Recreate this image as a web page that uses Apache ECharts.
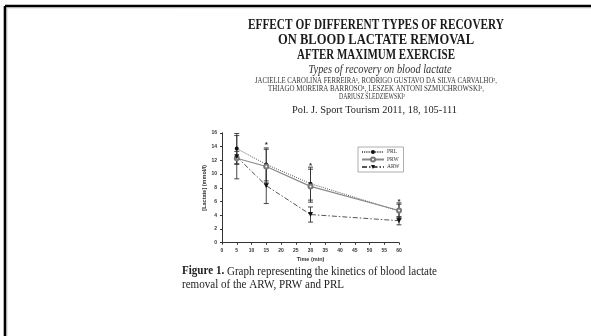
<!DOCTYPE html>
<html>
<head>
<meta charset="utf-8">
<script src="https://cdn.jsdelivr.net/npm/echarts@6/dist/echarts.min.js"></script>
<style>
  html, body { margin: 0; padding: 0; background: #fff; }
  #chart { width: 591px; height: 336px; }
</style>
</head>
<body>
<div id="chart"></div>
<script>
// time points (min)
var times = [5, 15, 30, 60]
var seriesNames = ['PRL', 'PRW', 'ARW']

// mean lactate (mmol/l)
var prl = [13.7, 11.4, 8.6, 4.6]
var prw = [12.3, 11.1, 8.2, 4.7]
var arw = [12.5, 8.3, 4.1, 3.2]

// error bars: lower / upper
var prlLow = [11.5, 9.0, 6.2, 3.5]
var prlHigh = [15.9, 13.8, 11.0, 5.8]
var prwLow = [11.4, 8.7, 5.9, 3.7]
var prwHigh = [13.3, 13.6, 10.7, 5.6]
var arwLow = [9.3, 5.7, 3.0, 2.6]
var arwHigh = [15.6, 10.9, 5.2, 3.8]

// significance marks
var starTimes = [15, 30, 60]
var starValues = [14.4, 11.4, 6.2]

var yTicks = [0, 2, 4, 6, 8, 10, 12, 14, 16]
var xTicks = [0, 5, 10, 15, 20, 25, 30, 35, 40, 45, 50, 55, 60]

var titleLines = [
  'EFFECT OF DIFFERENT TYPES OF RECOVERY',
  'ON BLOOD LACTATE REMOVAL',
  'AFTER MAXIMUM EXERCISE'
]
var subtitle = 'Types of recovery on blood lactate'
var authorLines = [
  'JACIELLE CAROLINA FERREIRA¹, RODRIGO GUSTAVO DA SILVA CARVALHO²,',
  'THIAGO MOREIRA BARROSO¹, LESZEK ANTONI SZMUCHROWSKI³,',
  'DARIUSZ ŚLEDZIEWSKI²'
]
var journal = 'Pol. J. Sport Tourism 2011, 18, 105-111'
var captionBold = 'Figure 1.'
var captionLine1 = ' Graph representing the kinetics of blood lactate'
var captionLine2 = 'removal of the ARW, PRW and PRL'

function pairs(xs, ys) {
  return xs.map(function (x, i) { return [x, ys[i]] })
}

var errData = []
;[[prlLow, prlHigh], [prwLow, prwHigh], [arwLow, arwHigh]].forEach(function (s) {
  times.forEach(function (t, i) { errData.push([t, s[0][i], s[1][i]]) })
})

// text measuring, used to squeeze the text to the page width
var measureCtx = document.createElement('canvas').getContext('2d')
function textWidth(str, font) {
  measureCtx.font = font
  return measureCtx.measureText(str).width
}
function centerText(str, font, cx, cy, w, color) {
  return {
    type: 'text', x: cx, y: cy, scaleX: w / textWidth(str, font), silent: true,
    style: { text: str, font: font, fill: color || '#222', textAlign: 'center', textVerticalAlign: 'middle' }
  }
}

var serif = '"Liberation Serif", "DejaVu Serif", serif'
var graphics = []
// slide frame
graphics.push({ type: 'line', shape: { x1: 5, y1: 6, x2: 591, y2: 6 }, style: { stroke: '#000', lineWidth: 2.6 } })
graphics.push({ type: 'line', shape: { x1: 5, y1: 6, x2: 5, y2: 336 }, style: { stroke: '#000', lineWidth: 2.6 } })
graphics.push({ type: 'line', shape: { x1: 7, y1: 7.8, x2: 591, y2: 7.8 }, style: { stroke: '#aaa', lineWidth: 0.8 } })
graphics.push({ type: 'line', shape: { x1: 6.8, y1: 8, x2: 6.8, y2: 336 }, style: { stroke: '#aaa', lineWidth: 0.8 } })

var titleFont = 'bold 14px ' + serif
graphics.push(centerText(titleLines[0], titleFont, 376, 25, 256, '#1a1a1a'))
graphics.push(centerText(titleLines[1], titleFont, 376, 40, 196, '#1a1a1a'))
graphics.push(centerText(titleLines[2], titleFont, 376, 55, 158, '#1a1a1a'))
graphics.push(centerText(subtitle, 'italic 11.5px ' + serif, 380, 70, 143, '#333'))
graphics.push(centerText(authorLines[0], '7.5px ' + serif, 376, 81, 242, '#333'))
graphics.push(centerText(authorLines[1], '7.5px ' + serif, 376, 89, 216, '#333'))
graphics.push(centerText(authorLines[2], '7.5px ' + serif, 372, 97, 66, '#333'))
graphics.push(centerText(journal, '11px ' + serif, 374.5, 110, 165, '#222'))

// caption, left aligned and squeezed to its width
var capFont = '11.5px ' + serif
var capBoldFont = 'bold 11.5px ' + serif
var cw1 = textWidth(captionBold, capBoldFont) + textWidth(captionLine1, capFont)
var capScale = 255 / cw1
graphics.push({
  type: 'text', x: 182, y: 271.5, scaleX: capScale, silent: true,
  style: {
    text: '{b|' + captionBold + '}' + captionLine1, font: capFont, fill: '#222', textVerticalAlign: 'middle',
    rich: { b: { fontWeight: 'bold', fontSize: 11.5, fontFamily: serif, fill: '#222' } }
  }
})
graphics.push({
  type: 'text', x: 182, y: 285, scaleX: capScale, silent: true,
  style: { text: captionLine2, font: capFont, fill: '#222', textVerticalAlign: 'middle' }
})

var axisFont = '"Liberation Sans", Arial, sans-serif'
var chart = echarts.init(document.getElementById('chart'))
chart.setOption({
  backgroundColor: '#fff',
  animation: false,
  graphic: graphics,
  grid: { left: 222, right: 192, top: 132.8, bottom: 93.3 },
  legend: {
    data: seriesNames,
    orient: 'vertical',
    left: 358,
    top: 147,
    itemWidth: 22,
    itemHeight: 5,
    itemGap: 1.5,
    padding: [2, 4, 2, 3],
    borderColor: '#999',
    borderWidth: 0.8,
    textStyle: { fontFamily: serif, fontSize: 5.5, color: '#333', padding: [0, 0, 0, -2] }
  },
  xAxis: {
    type: 'value', min: 0, max: 60, interval: 5,
    name: 'Time (min)', nameLocation: 'middle', nameGap: 14,
    nameTextStyle: { fontFamily: axisFont, fontSize: 5.5, fontWeight: 'bold', color: '#333' },
    axisLine: { lineStyle: { color: '#333', width: 1 } },
    axisTick: { length: 2, lineStyle: { color: '#333' } },
    axisLabel: {
      margin: 5, fontFamily: axisFont, fontSize: 5, fontWeight: 'bold', color: '#333',
      customValues: xTicks
    },
    splitLine: { show: false }
  },
  yAxis: {
    type: 'value', min: 0, max: 16, interval: 2,
    name: '[Lactate] (mmol/l)', nameLocation: 'middle', nameGap: 13, nameRotate: 90,
    nameTextStyle: { fontFamily: axisFont, fontSize: 5.5, fontWeight: 'bold', color: '#333' },
    axisLine: { show: true, lineStyle: { color: '#333', width: 1 } },
    axisTick: { show: true, length: 2, lineStyle: { color: '#333' } },
    axisLabel: {
      margin: 5, fontFamily: axisFont, fontSize: 5, fontWeight: 'bold', color: '#333',
      customValues: yTicks
    },
    splitLine: { show: false }
  },
  series: [
    {
      type: 'custom',
      name: 'error',
      data: errData,
      z: 1,
      silent: true,
      renderItem: function (params, api) {
        var x = api.value(0)
        var lo = api.coord([x, api.value(1)])
        var hi = api.coord([x, api.value(2)])
        var w = 2.5
        var st = { stroke: '#333', lineWidth: 0.9 }
        return {
          type: 'group',
          children: [
            { type: 'line', shape: { x1: lo[0], y1: lo[1], x2: hi[0], y2: hi[1] }, style: st },
            { type: 'line', shape: { x1: lo[0] - w, y1: lo[1], x2: lo[0] + w, y2: lo[1] }, style: st },
            { type: 'line', shape: { x1: hi[0] - w, y1: hi[1], x2: hi[0] + w, y2: hi[1] }, style: st }
          ]
        }
      }
    },
    {
      type: 'custom',
      name: 'stars',
      data: pairs(starTimes, starValues),
      silent: true,
      renderItem: function (params, api) {
        var p = api.coord([api.value(0), api.value(1)])
        return {
          type: 'text', x: p[0], y: p[1] + 1.5,
          style: { text: '*', font: 'bold 8px ' + axisFont, fill: '#333', textAlign: 'center', textVerticalAlign: 'middle' }
        }
      }
    },
    {
      type: 'line', name: 'PRL', data: pairs(times, prl), z: 3,
      symbol: 'circle', symbolSize: 4,
      itemStyle: { color: '#111' },
      lineStyle: { color: '#555', width: 1, type: [1, 1.2] }
    },
    {
      type: 'line', name: 'PRW', data: pairs(times, prw), z: 3,
      symbol: 'emptyCircle', symbolSize: 4,
      itemStyle: { color: '#777', borderColor: '#666', borderWidth: 0.9 },
      lineStyle: { color: '#888', width: 1.1 }
    },
    {
      type: 'line', name: 'ARW', data: pairs(times, arw), z: 3,
      symbol: 'triangle', symbolSize: 5, symbolRotate: 180,
      itemStyle: { color: '#111' },
      lineStyle: { color: '#555', width: 1, type: [5, 2, 1.5, 2] }
    }
  ]
})
</script>
</body>
</html>
